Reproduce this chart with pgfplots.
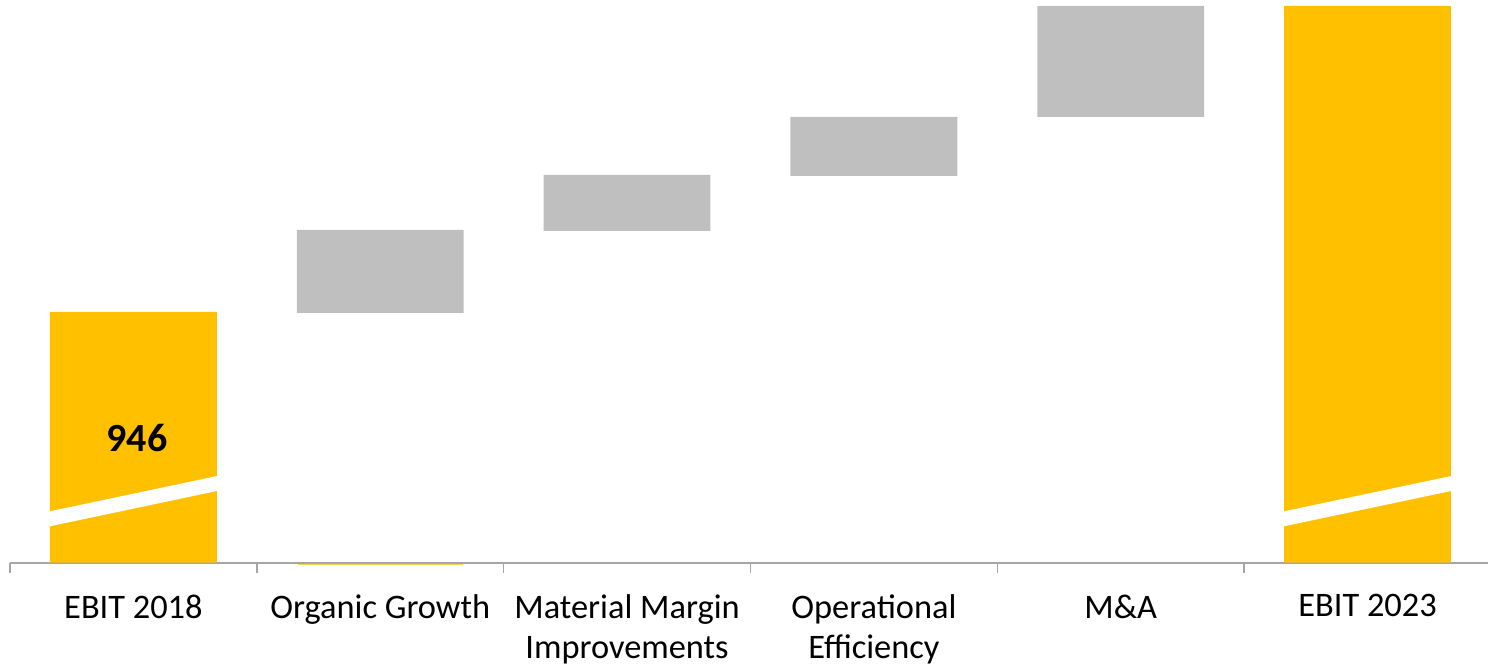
\documentclass[border=0pt]{standalone}
\usepackage{pgfplots}
\pgfplotsset{compat=1.18}
\usepackage{fontspec}
\setmainfont{Carlito}
\definecolor{ebit}{HTML}{FFC000}
\definecolor{step}{HTML}{BFBFBF}
\definecolor{axisgray}{HTML}{A6A6A6}
\begin{document}
\begin{tikzpicture}
\begin{axis}[
  set layers=standard,
  x=123.5pt, y=0.5pt,
  xmin=-0.5, xmax=5.488, ymin=0, ymax=557,
  clip=false,
  ybar stacked, bar width=0.676,
  axis x line*=bottom, axis y line=none,
  axis line style={axisgray, line width=1pt},
  xtick={0,1,2,3,4,5},
  xticklabels={EBIT 2018, Organic Growth, Material Margin\\Improvements, Operational\\Efficiency, M\&A, EBIT 2023},
  xticklabel style={align=center, font=\fontsize{17.2}{20}\selectfont, text=black, yshift=-12.5pt},
  major tick length=0pt,
  minor xtick={-0.5,0.5,1.5,2.5,3.5,4.5,5.5},
  minor tick length=5pt,
  tick align=outside,
  minor tick style={axisgray, line width=0.8pt},
]
% invisible base
\addplot[draw=none, fill=none] coordinates {(0,0) (1,250) (2,332) (3,387) (4,446) (5,0)};
% gray increments
\addplot[draw=none, fill=step] coordinates {(0,0) (1,83) (2,56) (3,59) (4,111) (5,0)};
% yellow totals
\addplot[draw=none, fill=ebit] coordinates {(0,251) (1,0) (2,0) (3,0) (4,0) (5,557)};
% break stripes
\addplot[sharp plot, stack plots=false, draw=none, fill=white, forget plot, on layer=axis foreground] coordinates {(-0.345,36) (0.345,72) (0.345,87) (-0.345,51)} -- cycle;
\addplot[sharp plot, stack plots=false, draw=none, fill=white, forget plot, on layer=axis foreground] coordinates {(4.655,36) (5.345,72) (5.345,87) (4.655,51)} -- cycle;
% faint yellow line under Organic Growth
\addplot[sharp plot, stack plots=false, draw=none, fill=ebit!70, forget plot] coordinates {(0.665,-1) (1.335,-1) (1.335,-2.6) (0.665,-2.6)} -- cycle;
\coordinate (lbl) at (axis cs:0.015,125);
\path (axis cs:-0.5405,-108) rectangle (axis cs:5.488,563);
\end{axis}
\node[font=\fontsize{20}{22}\selectfont\bfseries, text=black] at (lbl) {946};
\end{tikzpicture}
\end{document}
